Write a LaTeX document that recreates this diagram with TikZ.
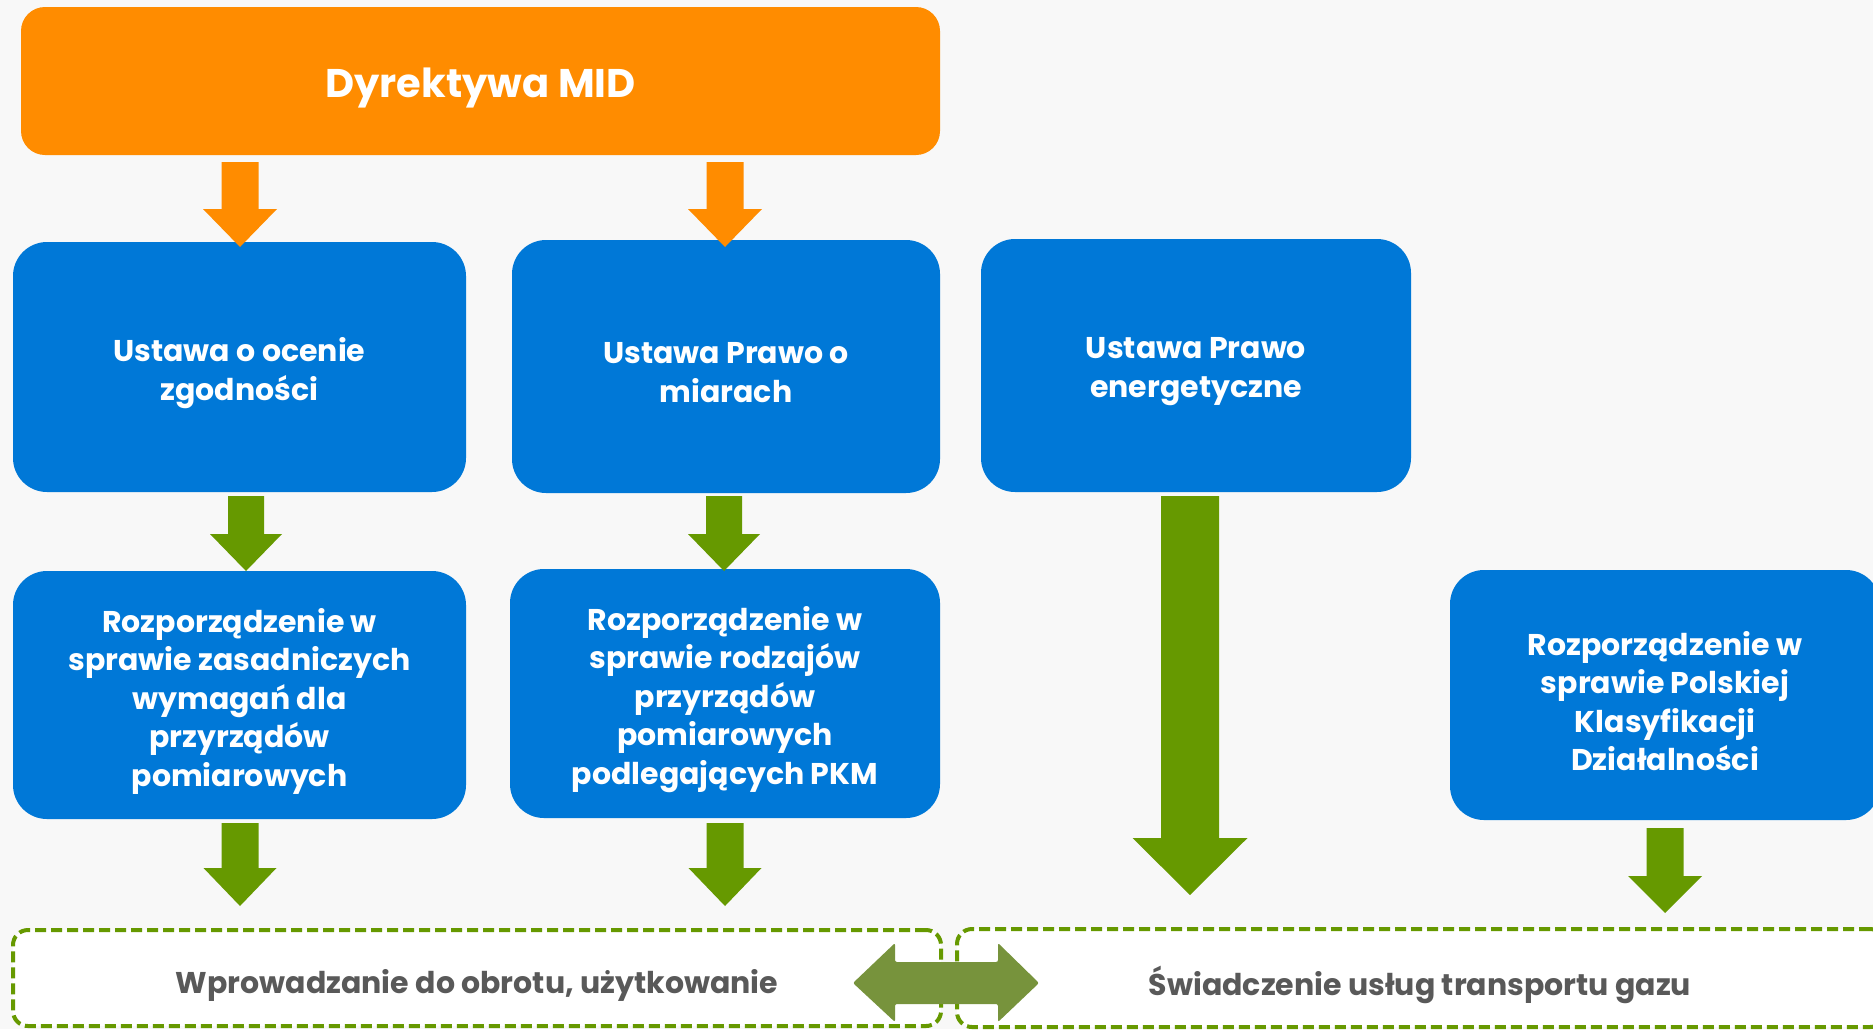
\documentclass[tikz,border=0pt]{standalone}
\usepackage{fontspec}
\setmainfont{Poppins}
\usetikzlibrary{positioning}
\definecolor{bg}{HTML}{F8F8F8}
\definecolor{orangeC}{HTML}{FF8C00}
\definecolor{blueC}{HTML}{0078D7}
\definecolor{greenC}{HTML}{669900}
\definecolor{oliveC}{HTML}{77933C}
\definecolor{grayT}{HTML}{595959}
\newcommand\blkarrow[7]{% color, cx, shaft half, head half, top, headstart, tip
  \fill[#1] (#2-#3,#5) -- (#2+#3,#5) -- (#2+#3,#6) -- (#2+#4,#6) -- (#2,#7)
    -- (#2-#4,#6) -- (#2-#3,#6) -- cycle;}
\tikzset{
  topbox/.style={fill=orangeC, rounded corners=24pt, inner sep=0pt},
  toptext/.style={text=white, font=\fontsize{40}{48}\selectfont\bfseries, align=center},
  bluebox/.style={fill=blueC, rounded corners=34pt, inner sep=0pt},
  bluetext/.style={text=white, font=\fontsize{30}{38.5}\selectfont\bfseries, align=center},
  dashbox/.style={fill=white, draw=greenC, line width=4pt, dash pattern=on 11pt off 5pt,
    rounded corners=15pt, inner sep=0pt},
  dashtext/.style={text=grayT, font=\fontsize{30}{36}\selectfont\bfseries, align=center}
}
\begin{document}
\begin{tikzpicture}[x=1pt,y=-1pt]
\fill[bg] (0,0) rectangle (1873,1029);
\useasboundingbox (0,0) rectangle (1873,1029);
% top
\node[topbox, minimum width=919pt, minimum height=148pt] (mid) at (480.5,81) {};
\node[toptext] (midt) at ([yshift=-7pt]mid.center) {Dyrektywa MID};
% row 1
\node[bluebox, minimum width=453pt, minimum height=250pt] (b1) at (239.5,367) {};
\node[bluebox, minimum width=428pt, minimum height=253pt] (b2) at (726,366.5) {};
\node[bluebox, minimum width=430pt, minimum height=253pt] (b3) at (1196,365.5) {};
% row 2
\node[bluebox, minimum width=453pt, minimum height=248pt] (b4) at (239.5,695) {};
\node[bluebox, minimum width=430pt, minimum height=249pt] (b5) at (725,693.5) {};
\node[bluebox, minimum width=430pt, minimum height=250pt] (b6) at (1665,695) {};
\node[bluetext] (b1t) at ([yshift=-6pt]b1.center) {Ustawa o ocenie\\zgodności};
\node[bluetext] (b2t) at ([yshift=-6pt]b2.center) {Ustawa Prawo o\\miarach};
\node[bluetext] (b3t) at ([yshift=-6pt]b3.center) {Ustawa Prawo\\energetyczne};
\node[bluetext] (b4t) at ([yshift=-6pt]b4.center) {Rozporządzenie w\\sprawie zasadniczych\\wymagań dla\\przyrządów\\pomiarowych};
\node[bluetext] (b5t) at ([yshift=-6pt]b5.center) {Rozporządzenie w\\sprawie rodzajów\\przyrządów\\pomiarowych\\podlegających PKM};
\node[bluetext] (b6t) at ([yshift=-6pt]b6.center) {Rozporządzenie w\\sprawie Polskiej\\Klasyfikacji\\Działalności};
% bottom
\node[dashbox, minimum width=928pt, minimum height=96pt] (d1) at (477,978) {};
\node[dashbox, minimum width=928pt, minimum height=98pt] (d2) at (1421,978) {};
\node[dashtext] (d1t) at (477,985) {Wprowadzanie do obrotu, użytkowanie};
\node[dashtext] (d2t) at (1420,985) {Świadczenie usług transportu gazu};
% orange arrows
\blkarrow{orangeC}{240}{18.5}{37}{162}{209}{247}
\blkarrow{orangeC}{725}{18.5}{37}{162}{209}{247}
% green arrows row 1
\blkarrow{greenC}{246}{18}{36}{496}{534}{571}
\blkarrow{greenC}{724}{18}{36}{496}{534}{571}
\blkarrow{greenC}{1190}{29}{57.5}{496}{838}{895}
% green arrows row 2
\blkarrow{greenC}{240}{18.5}{36.5}{823}{868}{906}
\blkarrow{greenC}{725}{18.5}{36.5}{823}{868}{906}
\blkarrow{greenC}{1665}{18.5}{37}{828}{876}{913}
% double arrow
\fill[oliveC, rounded corners=2pt] (853,983) -- (895,943) -- (895,962) -- (998,962) -- (998,943)
  -- (1039,983) -- (998,1022) -- (998,1004) -- (895,1004) -- (895,1022) -- cycle;
\end{tikzpicture}
\end{document}
